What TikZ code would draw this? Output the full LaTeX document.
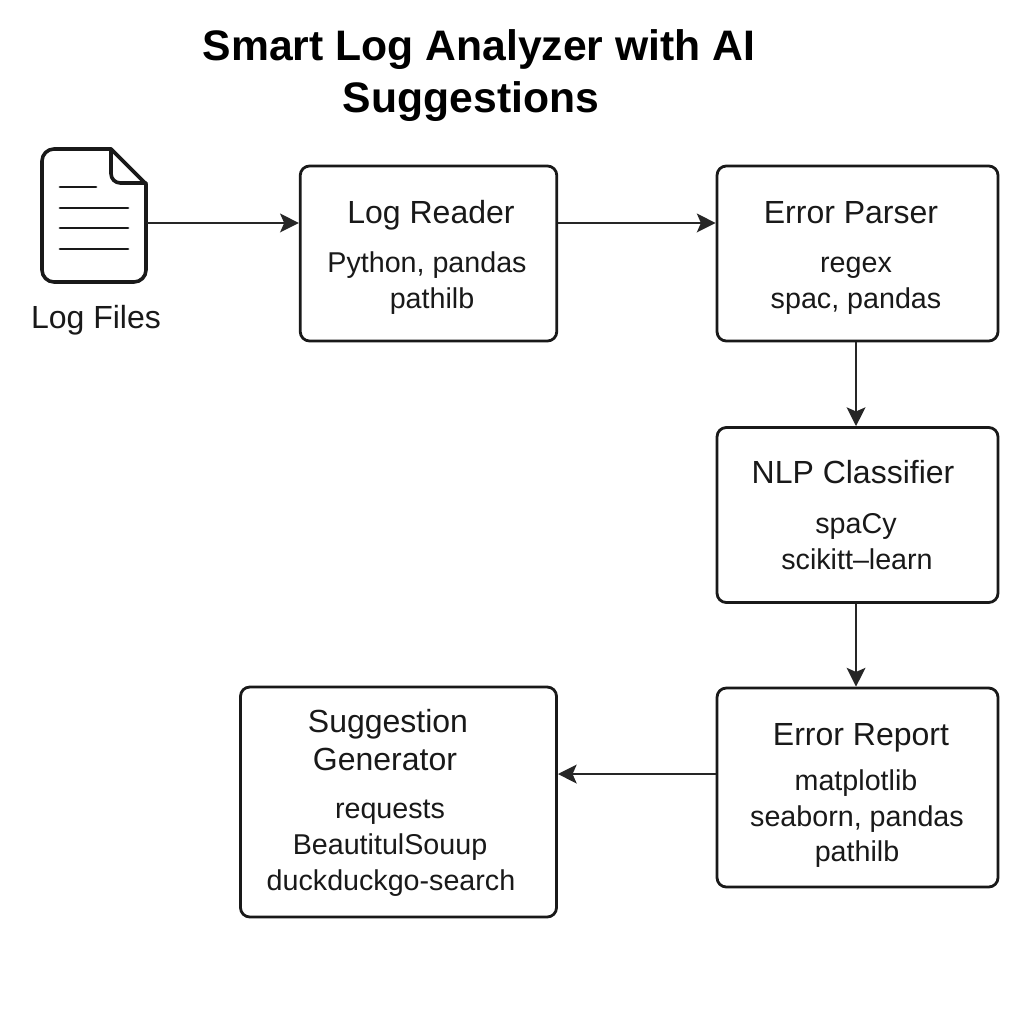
\documentclass[tikz,border=0pt]{standalone}
\usepackage{fontspec}
\setmainfont{Liberation Sans}
\usetikzlibrary{arrows.meta}
\tikzset{
 box/.style={draw=black!90,line width=2.1pt,rounded corners=7pt,inner sep=0pt},
 lbl/.style={inner sep=0pt,anchor=center,text height=0.72em,text depth=0.2em,text=black!90},
 ttl/.style={lbl,font=\fontsize{32}{40}\selectfont\bfseries,text=black,yshift=-9pt},
 hd/.style={lbl,font=\fontsize{24}{28}\selectfont,yshift=-6pt},
 tx/.style={lbl,font=\fontsize{21.5}{26}\selectfont,yshift=-5.25pt},
 ico/.style={line width=2.7pt,draw=black!90,line join=round,line cap=round},
 icoline/.style={line width=2.1pt,draw=black!90,line cap=round},
 conn/.style={draw=black!85,line width=1.9pt,-{Stealth[length=14pt,width=14pt,inset=3pt]}},
}
\begin{document}
\begin{tikzpicture}[x=0.75pt,y=-0.75pt]
\useasboundingbox[fill=white] (0,0) rectangle (1024,1024);
\node[ttl] (t1) at (479,45) {Smart Log Analyzer with AI};
\node[ttl] (t2) at (471,97) {Suggestions};
% boxes
\node[box,minimum width=256.5pt*0.75,minimum height=175pt*0.75] (lr) at (428.5,253.5) {};
\node[box,minimum width=281pt*0.75,minimum height=175pt*0.75] (ep) at (857.5,253.5) {};
\node[box,minimum width=281pt*0.75,minimum height=175pt*0.75] (nc) at (857.5,515) {};
\node[box,minimum width=281pt*0.75,minimum height=199pt*0.75] (er) at (857.5,787.5) {};
\node[box,minimum width=316pt*0.75,minimum height=230pt*0.75] (sg) at (398.5,802) {};
% file icon
\node[inner sep=0pt,minimum width=105pt*0.75,minimum height=132pt*0.75] (lf) at (94,215) {};
\draw[ico,rounded corners=9pt] (111,149) -- (42,149) -- (42,282) -- (146,282) -- (146,184);
\draw[ico] (111,149) -- (146,184);
\draw[ico,rounded corners=7pt] (111,149) -- (111,183) -- (146,183);
\foreach \a/\b/\y in {60/96/187,60/128/208,60/128/228,60/128/249} \draw[icoline] (\a,\y) -- (\b,\y);
\node[hd] (lfl) at (96,317) {Log Files};
% texts
\node[hd] (a1) at (431,212) {Log Reader};
\node[tx] (a2) at (427,262) {Python, pandas};
\node[tx] (a3) at (432,298) {pathilb};
\node[hd] (b1) at (851,212) {Error Parser};
\node[tx] (b2) at (856,262) {regex};
\node[tx] (b3) at (856,298) {spac, pandas};
\node[hd] (c1) at (853,472) {NLP Classifier};
\node[tx] (c2) at (856,523) {spaCy};
\node[tx] (c3) at (857,559) {scikitt–learn};
\node[hd] (d1) at (861,734) {Error Report};
\node[tx] (d2) at (856,780) {matplotlib};
\node[tx] (d3) at (857,816) {seaborn, pandas};
\node[tx] (d4) at (857,851) {pathilb};
\node[hd] (e1) at (388,721) {Suggestion};
\node[hd] (e2) at (385,759) {Generator};
\node[tx] (e3) at (390,808) {requests};
\node[tx] (e4) at (390,844) {BeautitulSouup};
\node[tx] (e5) at (391,880) {duckduckgo-search};
% connector ends
\coordinate (lrin) at ([yshift=22.9pt]lr.west);
\coordinate (lrout) at ([yshift=22.9pt]lr.east);
\coordinate (epin) at ([yshift=22.9pt]ep.west);
\coordinate (epout) at ([xshift=-1.1pt]ep.south);
\coordinate (ncin) at ([xshift=-1.1pt]nc.north);
\coordinate (ncout) at ([xshift=-1.1pt]nc.south);
\coordinate (erin) at ([xshift=-1.1pt]er.north);
\coordinate (erout) at ([yshift=10.1pt]er.west);
\draw[conn] (lf.east |- lrin) -- (lrin);
\draw[conn] (lrout) -- (epin);
\draw[conn] (epout) -- (ncin);
\draw[conn] (ncout) -- (erin);
\draw[conn] (erout) -- (sg.east |- erout);
\end{tikzpicture}
\end{document}
